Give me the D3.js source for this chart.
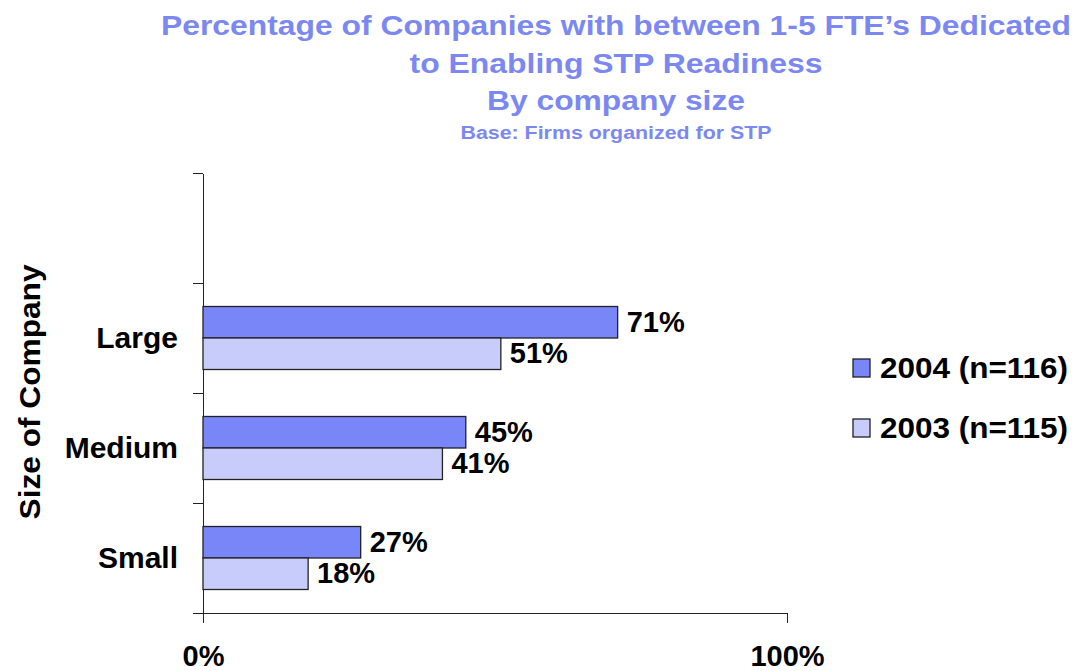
<!DOCTYPE html>
<meta charset="utf-8">
<script src="https://cdn.jsdelivr.net/npm/d3@7"></script>
<style>
body { margin: 0; background: #fff; }
text { font-family: Arial, "Liberation Sans", sans-serif; font-weight: bold; }
.title { fill: #7b88f2; text-anchor: middle; }
.axis path, .axis line { stroke: #222; stroke-width: 1.3; shape-rendering: crispEdges; }
.axis text { fill: #000; font-size: 29px; }
.cat-axis text { font-size: 30px; }
.bar-label { fill: #000; font-size: 29px; }
.legend text { fill: #000; font-size: 29px; }
</style>
<body>
<div id="chart"></div>
<script>
// ---- data ----
const categories = [" ", "Large", "Medium", "Small"];
const seriesNames = ["2004 (n=116)", "2003 (n=115)"];
const values2004 = [null, 71, 45, 27];
const values2003 = [null, 51, 41, 18];
const xTicks = [0, 100];
const titleLines = [
  "Percentage of Companies with between 1-5 FTE\u2019s Dedicated",
  "to Enabling STP Readiness",
  "By company size"
];
const subtitle = "Base: Firms organized for STP";
const yTitle = "Size of Company";

const colors = ["#7886f8", "#c8ccfb"];

// ---- svg ----
const width = 1076, height = 671;
const svg = d3.select("#chart").append("svg")
    .attr("width", width)
    .attr("height", height);

// titles (text in the original is a bit wider than Arial, so stretch to fit)
const titleY = [35, 73, 110];
const titleW = [910, 413, 258];
titleLines.forEach(function(t, i) {
  svg.append("text").attr("class", "title")
    .attr("x", 616).attr("y", titleY[i])
    .style("font-size", "28px")
    .attr("textLength", titleW[i])
    .attr("lengthAdjust", "spacingAndGlyphs")
    .text(t);
});
svg.append("text").attr("class", "title")
  .attr("x", 616).attr("y", 139)
  .style("font-size", "18px")
  .attr("textLength", 311)
  .attr("lengthAdjust", "spacingAndGlyphs")
  .text(subtitle);

// ---- scales ----
const x = d3.scaleLinear().domain([0, 100]).range([203, 787]);
const y0 = d3.scaleBand().domain(categories).range([173, 613]).padding(0);
const y1 = d3.scaleBand().domain(seriesNames).range([0, y0.bandwidth()])
    .paddingInner(0).paddingOuter(0.746);
const yTicks = d3.scaleLinear().domain([0, categories.length]).range([173, 613]);

// ---- axes ----
svg.append("g").attr("class", "axis")
  .attr("transform", "translate(0,613)")
  .call(d3.axisBottom(x).tickValues(xTicks).tickSize(10).tickSizeOuter(0)
        .tickPadding(22).tickFormat(d => d + "%"));

svg.append("g").attr("class", "axis")
  .attr("transform", "translate(203,0)")
  .call(d3.axisLeft(yTicks).ticks(categories.length).tickSize(10)
        .tickSizeOuter(0).tickFormat(""));

const catAxis = svg.append("g").attr("class", "axis cat-axis")
  .attr("transform", "translate(203,0)")
  .call(d3.axisLeft(y0).tickSize(0).tickPadding(25));
catAxis.select(".domain").remove();

svg.append("text")
  .attr("transform", "translate(40,392) rotate(-90)")
  .attr("text-anchor", "middle")
  .style("font-size", "29px")
  .attr("textLength", 255)
  .attr("lengthAdjust", "spacingAndGlyphs")
  .text(yTitle);

// ---- bars ----
const rows = categories.map(function(c, i) {
  return { cat: c, vals: [values2004[i], values2003[i]] };
}).filter(d => d.vals[0] !== null);

const groups = svg.selectAll(".grp").data(rows).enter().append("g")
  .attr("transform", d => "translate(0," + y0(d.cat) + ")");

const cells = groups.selectAll("g").data(d => d.vals.map((v, k) => ({ s: seriesNames[k], v: v, k: k })))
  .enter().append("g");

cells.append("rect")
  .attr("x", x(0))
  .attr("y", d => y1(d.s))
  .attr("width", d => x(d.v) - x(0))
  .attr("height", y1.bandwidth())
  .attr("fill", d => colors[d.k])
  .attr("stroke", "#222")
  .attr("stroke-width", 1.3);

cells.append("text").attr("class", "bar-label")
  .attr("x", d => x(d.v) + 9)
  .attr("y", d => y1(d.s) + y1.bandwidth() / 2)
  .attr("dy", "0.33em")
  .text(d => d.v + "%");

// ---- legend ----
const legend = svg.append("g").attr("class", "legend");
const ly = d3.scaleBand().domain(seriesNames).range([338, 458]);
const li = legend.selectAll("g").data(seriesNames).enter().append("g")
  .attr("transform", d => "translate(853," + (ly(d) + ly.bandwidth() / 2) + ")");
li.append("rect")
  .attr("x", 0).attr("y", -9).attr("width", 17).attr("height", 18)
  .attr("fill", (d, i) => colors[i])
  .attr("stroke", "#222").attr("stroke-width", 1.3);
li.append("text")
  .attr("x", 27).attr("dy", "0.36em")
  .attr("textLength", 188)
  .attr("lengthAdjust", "spacingAndGlyphs")
  .text(d => d);
</script>
</body>
